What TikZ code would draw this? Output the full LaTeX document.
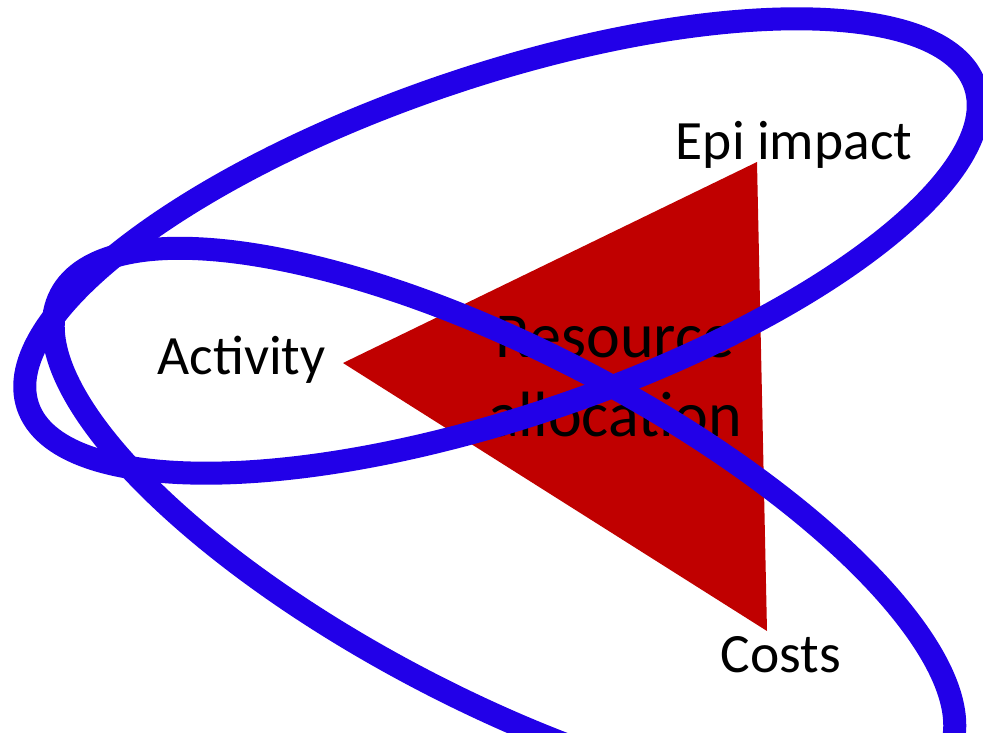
\documentclass[tikz,border=0pt]{standalone}
\usepackage{fontspec}
\setmainfont{Carlito}
\definecolor{ringblue}{RGB}{34,0,232}
\definecolor{trired}{RGB}{192,0,0}
\begin{document}
\begin{tikzpicture}[x=1pt,y=1pt,
  ring/.style={draw=ringblue, line width=23pt},
  txt/.style={inner sep=0pt, anchor=base, text=black},
  small/.style={font=\fontsize{55.5}{66}\selectfont},
  big/.style={font=\fontsize{64}{79}\selectfont}]
\useasboundingbox (0,0) rectangle (983,732);
\clip (0,0) rectangle (983,732);
\fill[white] (0,0) rectangle (983,732);
% triangle
\coordinate (A) at (343,369);
\coordinate (E) at (757,570);
\coordinate (C) at (767,101);
\fill[trired] (A) -- (E) -- (C) -- cycle;
% labels
\node[txt, small] (epi) at (794,572) {Epi impact};
\node[txt, small] (act) at (241.5,357) {Activity};
\node[txt, small] (cost) at (781,60) {Costs};
\node[txt, big] (res1) at (615,374) {Resource};
\node[txt, big] (res2) at (615,295) {allocation};
% ellipses
\draw[ring, rotate around={18.7:(501.5,486)}] (501.5,486) ellipse [x radius=500, y radius=170];
\draw[ring, rotate around={-27.5:(504,206)}] (504,206) ellipse [x radius=500, y radius=174];
\end{tikzpicture}
\end{document}
